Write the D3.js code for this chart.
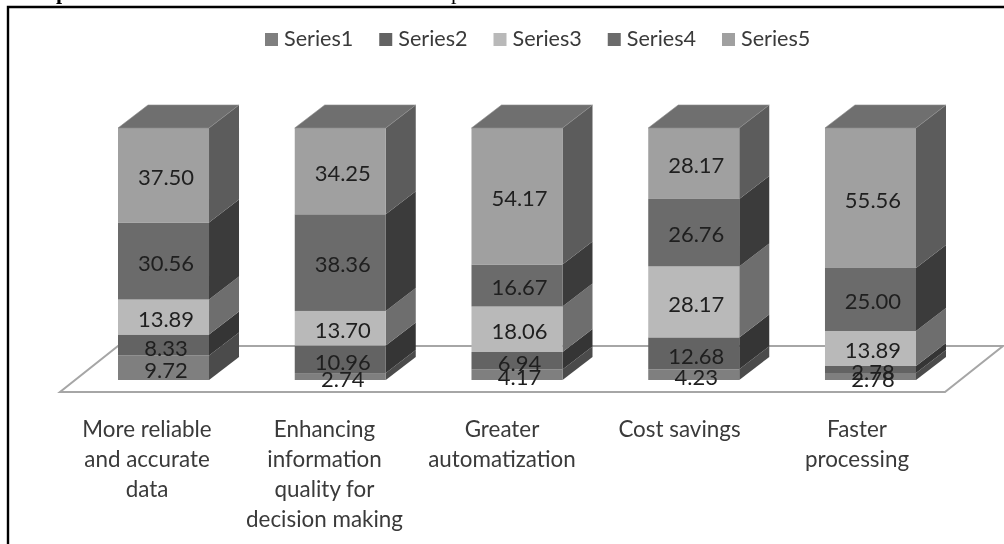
<!DOCTYPE html>
<html><head><meta charset="utf-8">
<script src="https://cdn.jsdelivr.net/npm/d3@7/dist/d3.min.js"></script>
<style>html,body{margin:0;padding:0;background:#fff}svg{display:block;filter:blur(0.4px)}text{font-family:Lato,"Open Sans",sans-serif}</style>
</head><body><svg id="c" width="1004" height="544"></svg>
<script>
const categories = [["More reliable","and accurate","data"],["Enhancing","information","quality for","decision making"],["Greater","automatization"],["Cost savings"],["Faster","processing"]];
const seriesNames = ["Series1","Series2","Series3","Series4","Series5"];
const series1 = [9.72,2.74,4.17,4.23,2.78];
const series2 = [8.33,10.96,6.94,12.68,2.78];
const series3 = [13.89,13.70,18.06,28.17,13.89];
const series4 = [30.56,38.36,16.67,26.76,25.00];
const series5 = [37.50,34.25,54.17,28.17,55.56];
const allSeries = [series1,series2,series3,series4,series5];
const frontColors = ["#7f7f7f","#636363","#b9b9b9","#6b6b6b","#a0a0a0"];
const sideColors = ["#4b4b4b","#353535","#6e6e6e","#3b3b3b","#5c5c5c"];
const topColor = "#6f6f6f";

const svg = d3.select("#c");
const fontSize = 22, catSize = 22.4, legSize = 21.6;
const depthX = 30, depthY = -23;

// frame and cut-off title
svg.append("path").attr("d","M8,544V7H1004").attr("fill","none").attr("stroke","#000").attr("stroke-width",2.4);
svg.append("text").attr("x",56).attr("y",-1).attr("font-size",22).attr("font-weight","bold").style("font-family","Liberation Serif").text("p");
svg.append("text").attr("x",451).attr("y",-1).attr("font-size",22).style("font-family","Liberation Serif").text("p");

const x = d3.scaleBand().domain(d3.range(categories.length)).range([118,916]).paddingInner(0.485).paddingOuter(0);
const y = d3.scaleLinear().domain([0,100]).range([380,128]);
const xCat = d3.scalePoint().domain(d3.range(categories.length)).range([147,857]);

// floor
const fx0 = 60, fx1 = 945, fy0 = 392, fy1 = 346, fdx = 58;
svg.append("path").attr("d",`M${fx0},${fy0}H${fx1}L${fx1+fdx},${fy1}H${fx0+fdx}Z`)
  .attr("fill","#fff").attr("stroke","#a6a6a6").attr("stroke-width",2);

const rows = categories.map((c,i)=>{const r={i};seriesNames.forEach((s,k)=>r[s]=allSeries[k][i]);return r;});
const stacked = d3.stack().keys(seriesNames)(rows);
const w = x.bandwidth();

stacked.forEach((layer,k)=>{
  const g = svg.append("g");
  g.selectAll("path.side").data(layer).join("path").attr("class","side")
    .attr("d",d=>{const X=x(d.data.i)+w,a=y(d[0]),b=y(d[1]);
      return `M${X},${a}L${X+depthX},${a+depthY}L${X+depthX},${b+depthY}L${X},${b}Z`;})
    .attr("fill",sideColors[k]);
  g.selectAll("rect").data(layer).join("rect")
    .attr("x",d=>x(d.data.i)).attr("width",w)
    .attr("y",d=>y(d[1])).attr("height",d=>y(d[0])-y(d[1]))
    .attr("fill",frontColors[k]);
});
// top faces
svg.append("g").selectAll("path").data(stacked[4]).join("path")
  .attr("d",d=>{const X=x(d.data.i),b=y(d[1]);
    return `M${X},${b}L${X+depthX},${b+depthY}H${X+w+depthX}L${X+w},${b}Z`;})
  .attr("fill",topColor).attr("stroke","#8c8c8c").attr("stroke-width",0.6);

// data labels
stacked.forEach((layer,k)=>{
  svg.append("g").selectAll("text").data(layer).join("text")
    .attr("x",d=>x(d.data.i)+w/2+2.5)
    .attr("y",d=>(y(d[0])+y(d[1]))/2+ (k<2?3:2))
    .attr("dy","0.35em").attr("text-anchor","middle")
    .attr("font-size",fontSize).attr("fill","#1f1f1f")
    .text(d=>(d[1]-d[0]).toFixed(2));
});

// category labels
const cg = svg.append("g").selectAll("text").data(categories).join("text")
  .attr("text-anchor","middle").attr("font-size",catSize).attr("fill","#3a3a3a");
cg.each(function(lines,i){
  d3.select(this).selectAll("tspan").data(lines).join("tspan")
    .attr("x",xCat(i)).attr("y",(d,j)=>437+j*30).text(d=>d);
});

// legend
const lx = d3.scalePoint().domain(seriesNames).range([265,722]);
const lg = svg.append("g").selectAll("g").data(seriesNames).join("g");
lg.append("rect").attr("x",d=>lx(d)).attr("y",33).attr("width",13).attr("height",13)
  .attr("fill",(d,i)=>frontColors[i]);
lg.append("text").attr("x",d=>lx(d)+19).attr("y",46).attr("font-size",legSize).attr("fill","#3a3a3a").text(d=>d);
</script></body></html>
